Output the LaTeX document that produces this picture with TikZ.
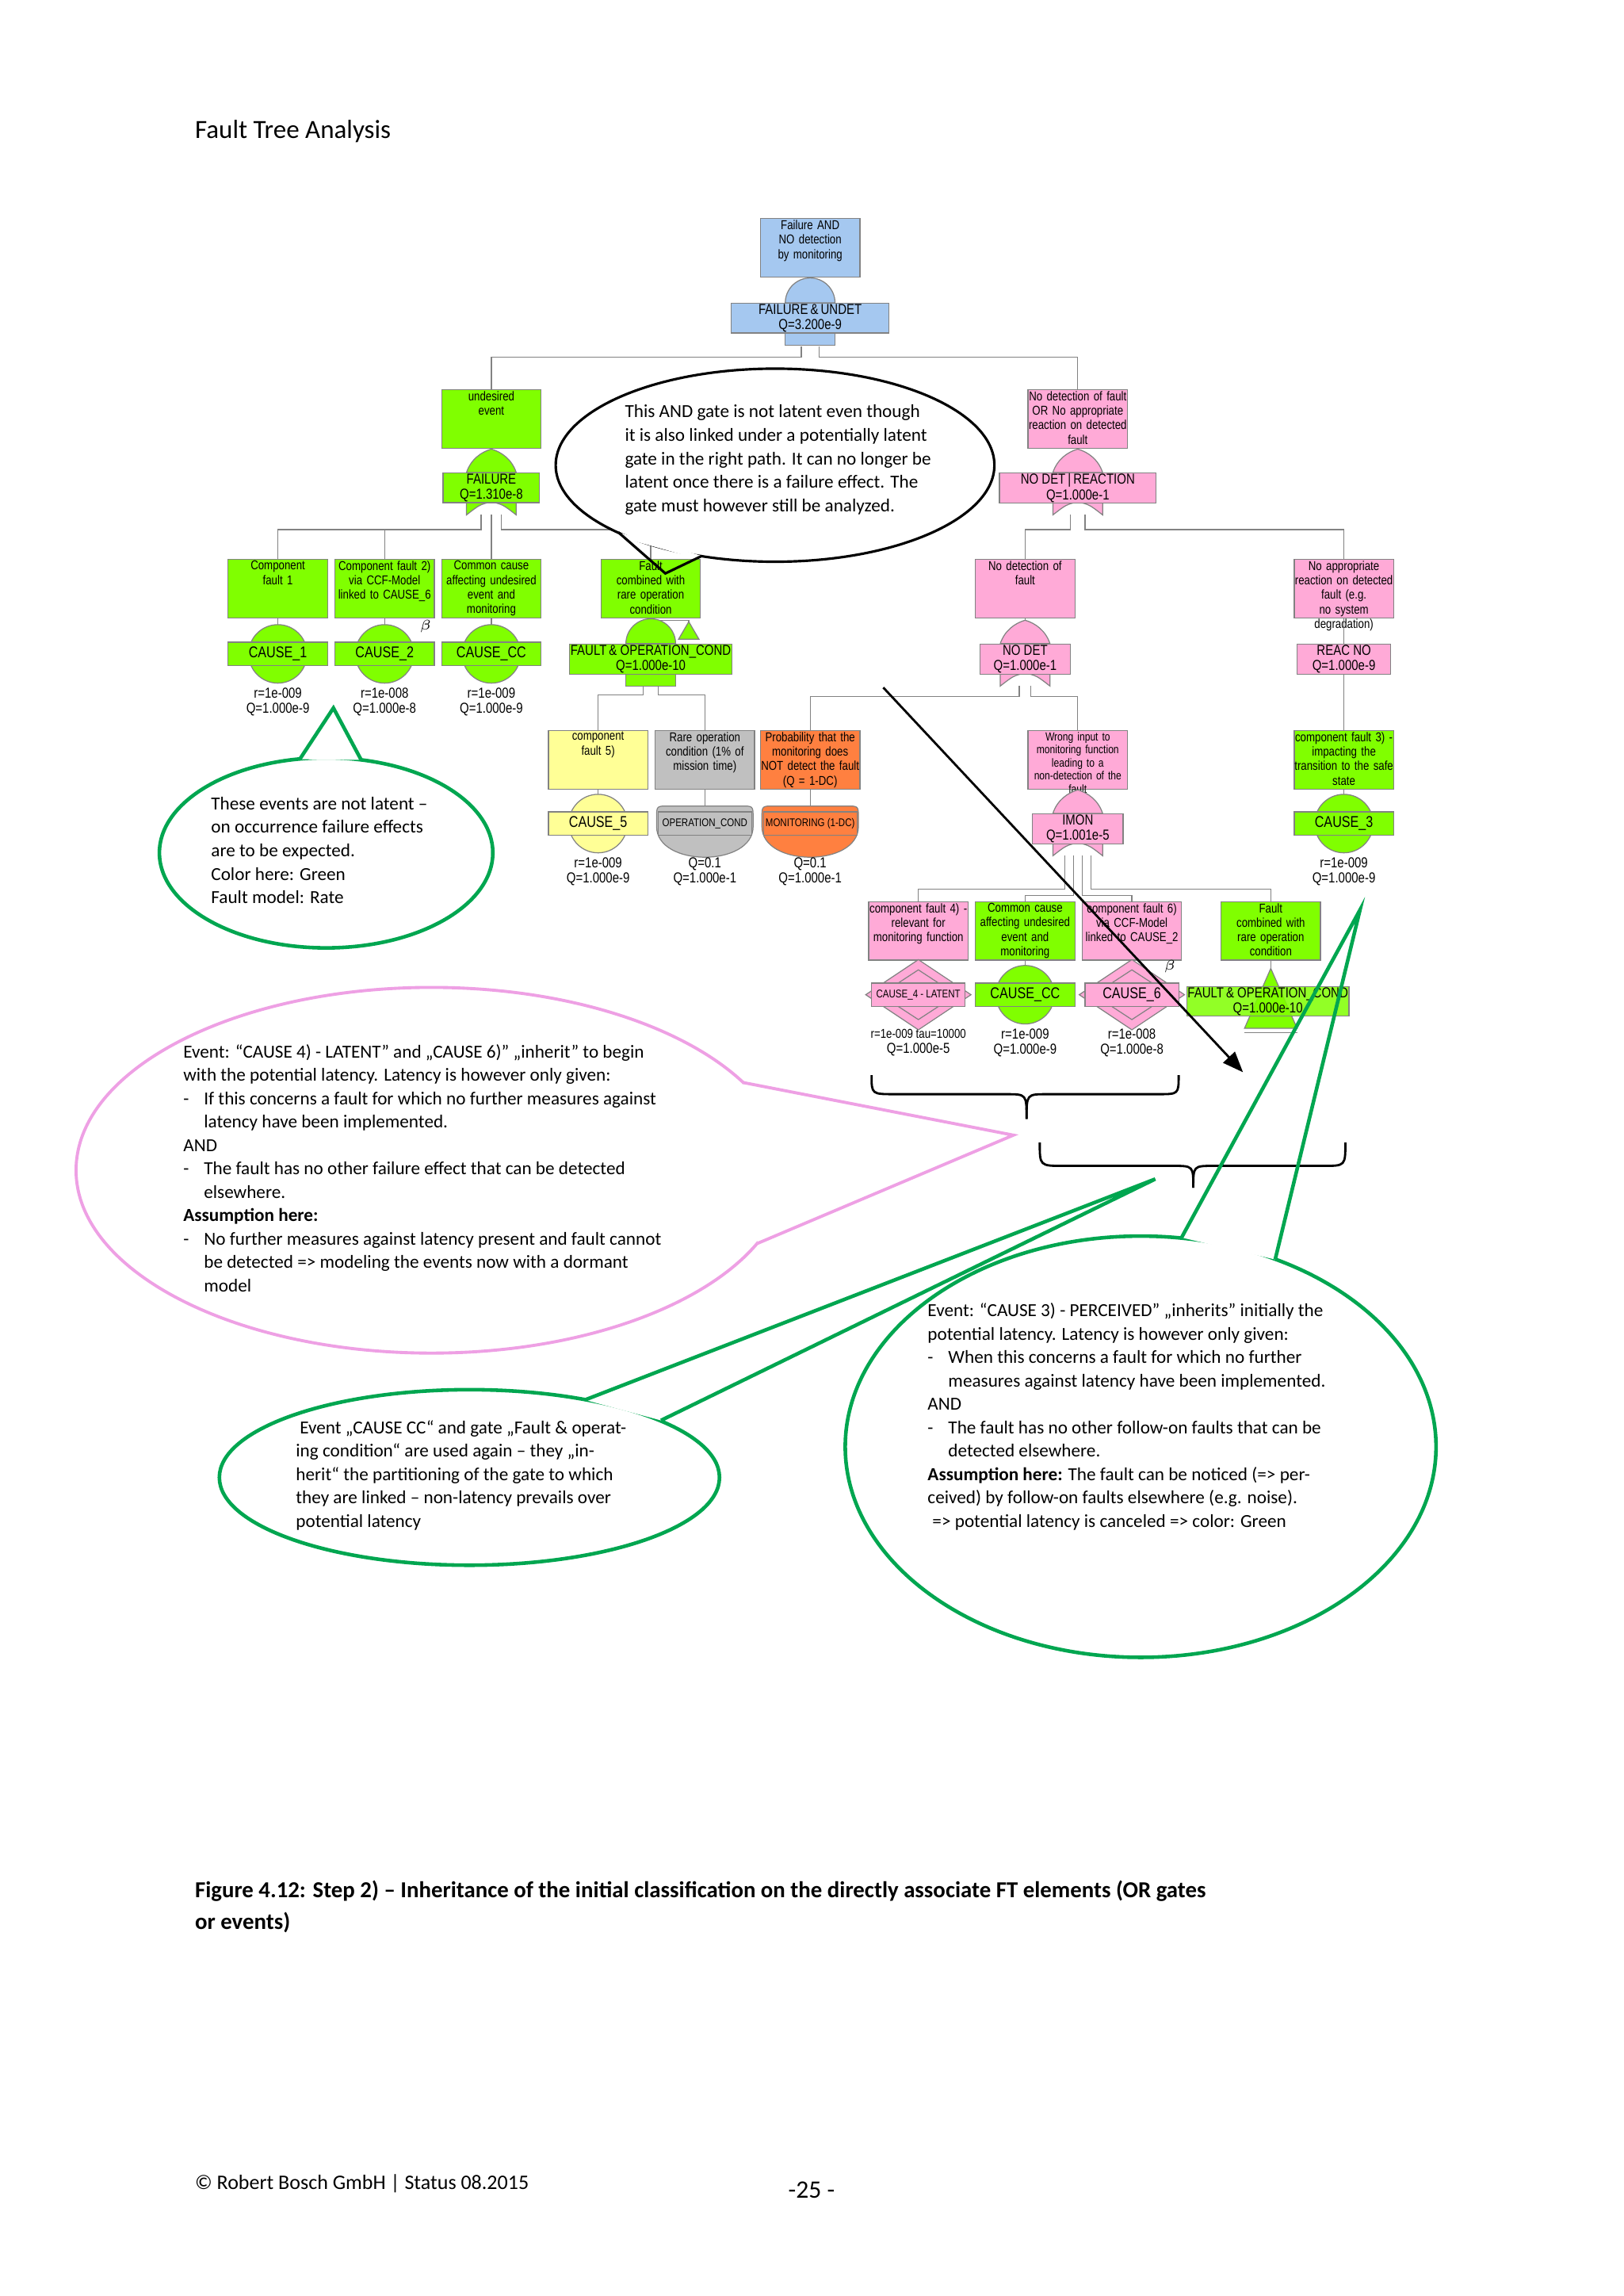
\documentclass[tikz,border=0pt]{standalone}
\usepackage{fontspec}
\setmainfont{Carlito}
\newfontfamily\ftf{Liberation Sans}[FakeStretch=0.82]
\usetikzlibrary{arrows.meta,calc}
\definecolor{ftgreen}{RGB}{128,255,0}
\definecolor{ftpink}{RGB}{255,170,215}
\definecolor{ftblue}{RGB}{165,200,240}
\definecolor{ftyellow}{RGB}{255,255,150}
\definecolor{ftgray}{RGB}{192,192,192}
\definecolor{ftorange}{RGB}{255,128,64}
\definecolor{gline}{RGB}{130,130,130}
\definecolor{callgreen}{RGB}{0,166,80}
\definecolor{callpink}{RGB}{238,160,228}
\def\U{0.1845mm}
\tikzset{
 wire/.style={draw=gline,line width=0.35pt},
 dbox/.style={draw=gline,minimum width=68*\U,minimum height=40*\U,anchor=north,inner sep=0pt,line width=0.35pt},
 dtxt/.style={anchor=north,text width=68*\U,align=center,inner sep=0.6pt,font=\ftf\fontsize{4.6}{5.2}\selectfont},
 lbox/.style={draw=gline,anchor=north,minimum height=19*\U,inner sep=0.3pt,align=center,line width=0.35pt,font=\ftf\fontsize{5.2}{5.5}\selectfont},
 ebox/.style={draw=gline,minimum width=68*\U,minimum height=16*\U,inner sep=0pt,line width=0.35pt,font=\ftf\fontsize{5.6}{6}\selectfont},
 vtxt/.style={align=center,inner sep=0pt,font=\ftf\fontsize{5.2}{5.4}\selectfont},
 gsym/.style={draw=gline,line width=0.35pt},
 ctext/.style={anchor=north west,align=left,inner sep=0pt,font=\fontsize{6.6}{8.4}\selectfont},
}
\newcommand\desc[5]{\node[dbox,fill=#4] (#1) at (#2,#3) {};\node[dtxt] at (#1.north) {#5};}
\newcommand\lbl[6]{\node[lbox,fill=#4,minimum width=#5*\U] (#1) at (#2,#3) {#6};}
\newcommand\andtop[3]{\filldraw[gsym,fill=#3] (#1-17,#2) .. controls (#1-17,#2-9.4) and (#1-9.4,#2-17) .. (#1,#2-17) .. controls (#1+9.4,#2-17) and (#1+17,#2-9.4) .. (#1+17,#2) -- cycle;}
\newcommand\andbot[3]{\filldraw[gsym,fill=#3] (#1-17,#2) rectangle (#1+17,#2+10);}
\newcommand\ortop[3]{\filldraw[gsym,fill=#3] (#1-17,#2) .. controls (#1-14,#2-9) and (#1-7,#2-14) .. (#1,#2-16) .. controls (#1+7,#2-14) and (#1+14,#2-9) .. (#1+17,#2) -- cycle;}
\newcommand\orbot[3]{\filldraw[gsym,fill=#3] (#1-17,#2) -- (#1-17,#2+10) .. controls (#1-8,#2+3) .. (#1,#2+1) .. controls (#1+8,#2+3) .. (#1+17,#2+10) -- (#1+17,#2) -- cycle;}
\newcommand\evc[7]{\filldraw[gsym,fill=#4] (#2,#3) circle[radius=20];
 \node[ebox,fill=#4] (#1) at (#2,#3) {#5};\node[vtxt] at (#2,#3+33) {#6\\#7};}
\newcommand\evd[7]{\filldraw[gsym,fill=#4] (#2,#3-24) -- (#2+36,#3) -- (#2,#3+24) -- (#2-36,#3) -- cycle;
 \draw[gsym] (#2,#3-17) -- (#2+26,#3) -- (#2,#3+17) -- (#2-26,#3) -- cycle;
 \node[ebox,fill=#4,minimum width=64*\U] (#1) at (#2,#3) {#5};\node[vtxt] at (#2,#3+33) {#6\\#7};}
\newcommand\evh[7]{\filldraw[gsym,fill=#4] (#2-33,#3+2) -- (#2-33,#3-4) .. controls (#2-33,#3-12) .. (#2-25,#3-12) -- (#2+25,#3-12) .. controls (#2+33,#3-12) .. (#2+33,#3-4) -- (#2+33,#3+2) .. controls (#2+33,#3+30) and (#2-33,#3+30) .. cycle;
 \node[ebox,fill=#4,minimum width=64*\U,font=\ftf\fontsize{4}{4.5}\selectfont] (#1) at (#2,#3) {#5};\node[vtxt] at (#2,#3+33) {#6\\#7};}
\newcommand\tail[4]{\fill[white] (#2) -- ($(#2)!0.15!(#3)$) -- ($(#4)!0.15!(#3)$) -- (#4) -- cycle;
 \draw[#1,line join=miter] (#2) -- (#3) -- (#4);}
\newcommand\dsh{\makebox[2.6mm][l]{-}}
\newcommand\ind{\hspace*{2.6mm}}
\begin{document}
\begin{tikzpicture}[x=\U,y=-\U]
\useasboundingbox[fill=white] (0,0) rectangle (1110,1569.6);
\node[anchor=west,inner sep=0,font=\fontsize{9.4}{11}\selectfont] (title) at (133,90) {Fault Tree Analysis};

% ---------- top gate
\desc{top}{554}{149}{ftblue}{Failure AND\\NO detection\\by monitoring}
\draw[wire] (top.south) -- (554,190);
\andtop{554}{207}{ftblue}\andbot{554}{226}{ftblue}
\lbl{topl}{554}{207}{ftblue}{108}{FAILURE\,\&\,UNDET\\Q=3.200e-9}

% ---------- left OR
\desc{undes}{336}{266}{ftgreen}{undesired\\event}
\draw[wire] (undes.south) -- (336,308);
\ortop{336}{323}{ftgreen}\orbot{336}{342}{ftgreen}
\lbl{faill}{336}{323}{ftgreen}{66}{FAILURE\\Q=1.310e-8}

\desc{c1}{190}{382}{ftgreen}{Component\\fault 1}
\desc{c2}{263}{382}{ftgreen}{Component fault 2)\\via CCF-Model\\linked to CAUSE\_6}
\desc{c3}{336}{382}{ftgreen}{Common cause\\affecting undesired\\event and monitoring}
\desc{c4}{445}{382}{ftgreen}{Fault\\combined with\\rare operation\\condition}
\foreach \n/\x in {c1/190,c2/263,c3/336}{\draw[wire] (\n.south) -- (\x,427);}
\evc{e1}{190}{447}{ftgreen}{CAUSE\_1}{r=1e-009}{Q=1.000e-9}
\evc{e2}{263}{447}{ftgreen}{CAUSE\_2}{r=1e-008}{Q=1.000e-8}
\evc{e3}{336}{447}{ftgreen}{CAUSE\_CC}{r=1e-009}{Q=1.000e-9}
\node[font=\fontsize{5.5}{6}\selectfont,inner sep=0] (beta1) at (291,428) {$\beta$};

% c4 AND
\draw[wire] (c4.south) -- (445,424) -| (471,428);
\filldraw[gsym,fill=ftgreen] (464,437) -- (478,437) -- (471,425) -- cycle;
\andtop{445}{440}{ftgreen}\andbot{445}{459}{ftgreen}
\lbl{c4l}{445}{440}{ftgreen}{107}{FAULT\,\& OPERATION\_COND\\Q=1.000e-10}

\desc{c5}{409}{499}{ftyellow}{component\\fault 5)}
\desc{crare}{482}{499}{ftgray}{Rare operation\\condition (1\% of\\mission time)}
\desc{prob}{554}{499}{ftorange}{Probability that the\\monitoring does\\NOT detect the fault\\(Q = 1-DC)}
\foreach \n/\x in {c5/409,crare/482,prob/554}{\draw[wire] (\n.south) -- (\x,551);}
\evc{e5}{409}{563}{ftyellow}{CAUSE\_5}{r=1e-009}{Q=1.000e-9}
\evh{eop}{482}{563}{ftgray}{OPERATION\_COND}{Q=0.1}{Q=1.000e-1}
\evh{emon}{554}{563}{ftorange}{MONITORING (1-DC)}{Q=0.1}{Q=1.000e-1}

% ---------- right OR
\desc{nodr}{737}{266}{ftpink}{No detection of fault\\OR No appropriate\\reaction on detected\\fault}
\draw[wire] (nodr.south) -- (737,308);
\ortop{737}{323}{ftpink}\orbot{737}{342}{ftpink}
\lbl{nodrl}{737}{323}{ftpink}{107}{NO DET\,|\,REACTION\\Q=1.000e-1}

\desc{nodet}{701}{382}{ftpink}{No detection of\\fault}
\draw[wire] (nodet.south) -- (701,425);
\ortop{701}{440}{ftpink}\orbot{701}{459}{ftpink}
\lbl{nodetl}{701}{440}{ftpink}{62}{NO DET\\Q=1.000e-1}

\desc{reacd}{919}{382}{ftpink}{No appropriate\\reaction on detected\\fault (e.g. no system\\degradation)}
\lbl{reacl}{919}{440}{ftpink}{64}{REAC NO\\Q=1.000e-9}
\desc{c3d}{919}{499}{ftgreen}{component fault 3) -\\impacting the\\transition to the safe\\state}
\draw[wire] (reacd.south) -- (reacl.north);
\draw[wire] (reacl.south) -- (c3d.north);
\draw[wire] (c3d.south) -- (919,543);
\evc{ec3}{919}{563}{ftgreen}{CAUSE\_3}{r=1e-009}{Q=1.000e-9}

\node[dbox,fill=ftpink] (wrong) at (737,499) {};
\node[dtxt,font=\ftf\fontsize{4.2}{4.7}\selectfont] at (wrong.north) {Wrong input to\\monitoring function\\leading to a\\non-detection of the\\fault};
\draw[wire] (wrong.south) -- (737,541);
\ortop{737}{556}{ftpink}\orbot{737}{575}{ftpink}
\lbl{imonl}{737}{556}{ftpink}{62}{IMON\\Q=1.001e-5}

\desc{c4d}{628}{616}{ftpink}{component fault 4) -\\relevant for\\monitoring function}
\desc{cc2}{701}{616}{ftgreen}{Common cause\\affecting undesired\\event and monitoring}
\desc{c6d}{774}{616}{ftpink}{component fault 6)\\via CCF-Model\\linked to CAUSE\_2}
\desc{fc2}{869}{616}{ftgreen}{Fault\\combined with\\rare operation\\condition}
\foreach \n/\x in {c4d/628,c6d/774}{\draw[wire] (\n.south) -- (\x,656);}
\draw[wire] (cc2.south) -- (701,660);
\evd{e4}{628}{680}{ftpink}{\fontsize{4}{4.5}\selectfont CAUSE\_4 - LATENT}{\fontsize{4.6}{5}\selectfont r=1e-009 tau=10000}{Q=1.000e-5}
\evc{ecc}{701}{680}{ftgreen}{CAUSE\_CC}{r=1e-009}{Q=1.000e-9}
\evd{e6}{774}{680}{ftpink}{CAUSE\_6}{r=1e-008}{Q=1.000e-8}
\node[font=\fontsize{5.5}{6}\selectfont,inner sep=0] (beta2) at (800,661) {$\beta$};
\draw[wire] (fc2.south) -- (869,662);
\filldraw[gsym,fill=ftgreen] (851,703) -- (887,703) -- (869,662) -- cycle;
\node[lbox,fill=ftgreen,fill opacity=0.85,text opacity=1,minimum width=106*\U] (fc2l) at (867,674) {FAULT\,\& OPERATION\_COND\\Q=1.000e-10};
\draw[wire] (851,706) -- (887,706);

% ---------- connectors
\draw[wire] (548,237) -- (548,244) -| (undes.north);
\draw[wire] (560,237) -- (560,244) -| (nodr.north);
\draw[wire] (329,352) -- (329,362) -| (c1.north);
\draw[wire] (329,362) -| (c2.north);
\draw[wire] (336,352) -- (c3.north);
\draw[wire] (343,352) -- (343,362) -| (c4.north);
\draw[wire] (440,469) -- (440,475) -| (c5.north);
\draw[wire] (450,469) -- (450,475) -| (crare.north);
\draw[wire] (732,352) -- (732,362) -| (nodet.north);
\draw[wire] (742,352) -- (742,362) -| (reacd.north);
\draw[wire] (697,469) -- (697,476) -| (prob.north);
\draw[wire] (705,469) -- (705,476) -| (wrong.north);
\draw[wire] (728,585) -- (728,608) -| (c4d.north);
\draw[wire] (734,585) -- (734,612) -| (cc2.north);
\draw[wire] (740,585) -- (740,612) -| (c6d.north);
\draw[wire] (746,585) -- (746,608) -| (fc2.north);

% ---------- braces
\draw[line width=0.8pt] (596,735) .. controls (596,748) .. (612,748) -- (688,748) .. controls (702,748) .. (702,765);
\draw[line width=0.8pt] (702,765) .. controls (702,748) .. (716,748) -- (792,748) .. controls (806,748) .. (806,735);
\draw[line width=0.8pt] (711,781) .. controls (711,797) .. (727,797) -- (802,797) .. controls (816,797) .. (816,812);
\draw[line width=0.8pt] (816,812) .. controls (816,797) .. (830,797) -- (905,797) .. controls (920,797) .. (920,781);

% ---------- callouts
\draw[line width=0.9pt,fill=white] (530,318) ellipse[x radius=150,y radius=66];
\coordinate (bt1) at (423,364); \coordinate (btt) at (455,392); \coordinate (bt2) at (480,380);
\tail{line width=0.9pt}{bt1}{btt}{bt2}
\node[ctext] (btext) at (427,276.5) {This AND gate is not latent even though\\it is also linked under a potentially latent\\gate in the right path. It can no longer be\\latent once there is a failure effect. The\\gate must however still be analyzed.};

\draw[line width=1.3pt,draw=callgreen,fill=white] (223,583) ellipse[x radius=114,y radius=65];
\coordinate (g1a) at (205,519); \coordinate (g1t) at (228,484); \coordinate (g1b) at (247,519.5);
\tail{line width=1.3pt,draw=callgreen}{g1a}{g1t}{g1b}
\node[ctext] (g1text) at (144,544.5) {These events are not latent –\\on occurrence failure effects\\are to be expected.\\Color here: Green\\Fault model: Rate};

\draw[line width=1.1pt,draw=callpink,fill=white] (295,800) ellipse[x radius=243,y radius=125];
\coordinate (p1a) at (508,740); \coordinate (p1t) at (693,776); \coordinate (p1b) at (518,850);
\tail{line width=1.1pt,draw=callpink}{p1a}{p1t}{p1b}
\node[ctext] (ptext) at (125,713.5) {Event: “CAUSE 4) - LATENT” and „CAUSE 6)” „inherit” to begin\\with the potential latency. Latency is however only given:\\\dsh If this concerns a fault for which no further measures against\\\ind latency have been implemented.\\AND\\\dsh The fault has no other failure effect that can be detected\\\ind elsewhere.\\\textbf{Assumption here:}\\\dsh No further measures against latency present and fault cannot\\\ind be detected => modeling the events now with a dormant\\\ind model};

\draw[line width=1.3pt,draw=callgreen,fill=white] (321,1010) ellipse[x radius=171,y radius=60];
\coordinate (g2a) at (400,957); \coordinate (g2t) at (790,806); \coordinate (g2b) at (452,971);
\tail{line width=1.3pt,draw=callgreen}{g2a}{g2t}{g2b}
\node[ctext] (g2text) at (202,970.5) {\hspace*{0.5mm}Event „CAUSE CC“ and gate „Fault \& operat-\\ing condition“ are used again – they „in-\\herit“ the partitioning of the gate to which\\they are linked – non-latency prevails over\\potential latency};

\draw[line width=1.3pt,draw=callgreen,fill=white] (780,989) ellipse[x radius=202,y radius=144];
\coordinate (g3a) at (808,846); \coordinate (g3t) at (930,622); \coordinate (g3b) at (872,861);
\tail{line width=1.3pt,draw=callgreen}{g3a}{g3t}{g3b}
\node[ctext] (g3text) at (634,890.5) {Event: “CAUSE 3) - PERCEIVED” „inherits” initially the\\potential latency. Latency is however only given:\\\dsh When this concerns a fault for which no further\\\ind measures against latency have been implemented.\\AND\\\dsh The fault has no other follow-on faults that can be\\\ind detected elsewhere.\\\textbf{Assumption here:} The fault can be noticed (=> per-\\ceived) by follow-on faults elsewhere (e.g. noise).\\\hspace*{0.6mm}=> potential latency is canceled => color: Green};

% ---------- arrow
\coordinate (ara) at (604,470); \coordinate (arb) at (850,733);
\draw[line width=0.8pt,-{Triangle[length=2.6mm,width=2mm]}] (ara) -- (arb);

% ---------- caption and footer
\node[anchor=north west,align=left,inner sep=0,font=\bfseries\fontsize{8.2}{11.6}\selectfont] (cap) at (133,1285) {Figure 4.12: Step 2) – Inheritance of the initial classification on the directly associate FT elements (OR gates\\or events)};
\node[anchor=west,inner sep=0,font=\fontsize{7.4}{9}\selectfont] (foot) at (133,1493) {© Robert Bosch GmbH | Status 08.2015};
\node[inner sep=0,font=\fontsize{9}{11}\selectfont] (pg) at (555,1497) {-25 -};
\end{tikzpicture}
\end{document}
